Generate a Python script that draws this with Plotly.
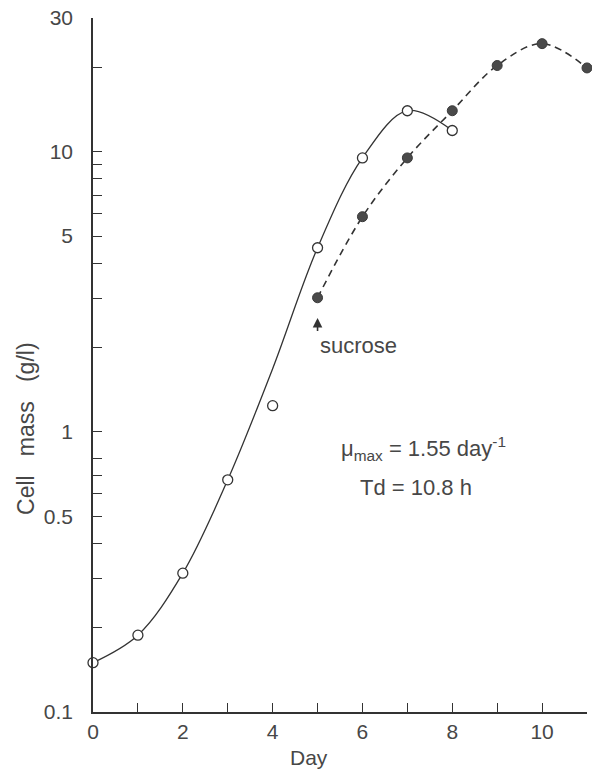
import numpy as np
import plotly.graph_objects as go

# ---- data ----
days_glucose = [0, 1, 2, 3, 4, 5, 6, 7, 8]
mass_glucose = [0.150, 0.188, 0.313, 0.674, 1.24, 4.54, 9.5, 14.0, 11.9]

# hand-drawn solid curve through the open-circle series
fit_days_glucose = [0, 1, 2, 3, 4, 5, 6, 7, 8]
fit_mass_glucose = [0.150, 0.188, 0.313, 0.674, 1.68, 4.54, 9.5, 14.0, 11.9]

days_sucrose = [5, 6, 7, 8, 9, 10, 11]
mass_sucrose = [3.01, 5.86, 9.5, 14.0, 20.3, 24.3, 19.9]

sucrose_day = 5
sucrose_arrow_tip = 2.55

x_major = [0, 2, 4, 6, 8, 10]
x_minor = [1, 3, 5, 7, 9, 11]
y_major = [0.1, 0.5, 1, 5, 10, 30]
y_major_text = ["0.1", "0.5", "1", "5", "10", "30"]
y_minor = [0.2, 0.3, 0.4, 0.6, 0.7, 0.8, 2, 3, 4, 6, 7, 8, 9, 20]

FONT = "Liberation Sans, Arial, sans-serif"
INK = "#333333"
TXT = "#474747"

fig = go.Figure()

fig.add_trace(go.Scatter(
    x=fit_days_glucose, y=fit_mass_glucose, mode="lines",
    line=dict(color=INK, width=1.3, shape="spline", smoothing=1.0),
    hoverinfo="skip", cliponaxis=False))
fig.add_trace(go.Scatter(
    x=days_sucrose, y=mass_sucrose, mode="lines",
    line=dict(color=INK, width=1.6, shape="spline", smoothing=1.0, dash="7px,5px"),
    hoverinfo="skip", cliponaxis=False))
fig.add_trace(go.Scatter(
    x=days_glucose, y=mass_glucose, mode="markers",
    marker=dict(symbol="circle", size=10, color="white",
                line=dict(color=INK, width=1.3)),
    cliponaxis=False))
fig.add_trace(go.Scatter(
    x=days_sucrose, y=mass_sucrose, mode="markers",
    marker=dict(symbol="circle", size=10, color="#4a4a4a",
                line=dict(color="#3a3a3a", width=1)),
    cliponaxis=False))

axis_common = dict(
    showgrid=False, zeroline=False, showline=True, linecolor=INK, linewidth=1.6,
    ticks="inside", ticklen=9, tickwidth=1.3, tickcolor=INK,
    tickfont=dict(family=FONT, size=21, color=TXT),
    ticklabeloverflow="allow", mirror=False,
)

fig.update_xaxes(
    **axis_common, range=[0, 11], tickmode="array", tickvals=x_major,
    ticklabelstandoff=0,
    minor=dict(tickmode="array", tickvals=x_minor, ticks="inside",
               ticklen=9, tickwidth=1.3, tickcolor=INK),
)
fig.update_yaxes(
    **axis_common, type="log", range=[-1, np.log10(30)], tickmode="array",
    tickvals=y_major, ticktext=y_major_text, ticklabelstandoff=14,
    minor=dict(tickmode="array", tickvals=y_minor, ticks="inside",
               ticklen=9, tickwidth=1.3, tickcolor=INK),
)

annotations = [
    dict(text="Day", x=0.437, y=-0.065, xref="paper", yref="paper",
         xanchor="center", yanchor="middle", showarrow=False,
         font=dict(family=FONT, size=21, color=TXT)),
    dict(text="Cell\u00a0\u00a0 mass\u00a0\u00a0 (g/l)", x=-0.136, y=0.409,
         xref="paper", yref="paper", xanchor="center", yanchor="middle",
         textangle=-90, showarrow=False,
         font=dict(family=FONT, size=23, color=TXT)),
    dict(text="sucrose", x=sucrose_day, y=np.log10(sucrose_arrow_tip),
         xref="x", yref="y", xanchor="left", yanchor="top",
         showarrow=True, arrowhead=2, arrowsize=1.2, arrowwidth=1.6,
         arrowcolor=INK, ax=0, ay=13, standoff=0,
         font=dict(family=FONT, size=22, color=TXT)),
    dict(text="\u03bc<sub>max</sub> = 1.55 day<sup>-1</sup>", x=0.670, y=0.380,
         xref="paper", yref="paper", xanchor="center", yanchor="middle",
         showarrow=False, font=dict(family=FONT, size=22, color=TXT)),
    dict(text="Td = 10.8 h", x=0.654, y=0.323, xref="paper", yref="paper",
         xanchor="center", yanchor="middle", showarrow=False,
         font=dict(family=FONT, size=22, color=TXT)),
]

fig.update_layout(
    width=592, height=776,
    margin=dict(l=93, r=5, t=18, b=64),
    paper_bgcolor="white", plot_bgcolor="white",
    showlegend=False,
    annotations=annotations,
)

fig.write_html(
    "out.html",
    config={"displayModeBar": False},
    post_script="document.body.style.margin='0';document.body.style.overflow='hidden';",
)
